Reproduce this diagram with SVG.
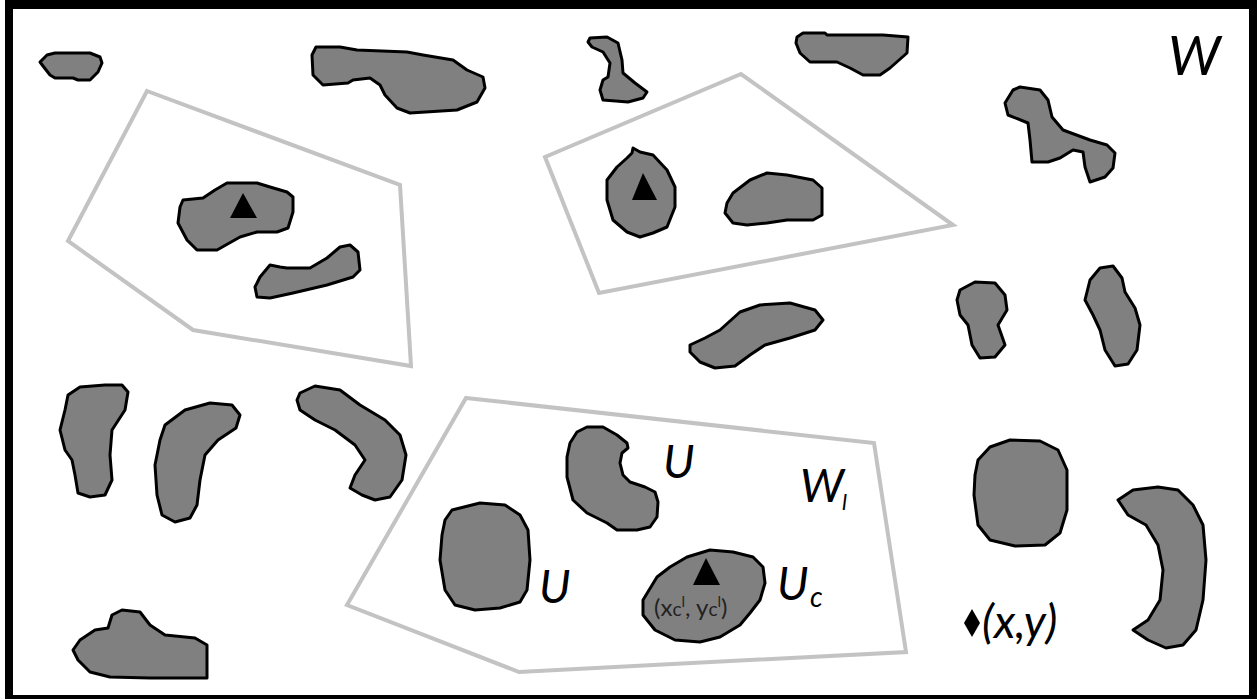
<svg xmlns="http://www.w3.org/2000/svg" width="1257" height="699" viewBox="0 0 1257 699">
<style>
.blob{fill:#808080;stroke:#000;stroke-width:3;stroke-linejoin:round}
.poly{fill:none;stroke:#c3c3c3;stroke-width:4;stroke-linejoin:miter}
.tri{fill:#000}
.lbl{font-family:Lato,"Open Sans","Liberation Sans",sans-serif;font-style:italic;fill:#000}
.sm{font-family:Lato,"Open Sans","Liberation Sans",sans-serif;fill:#222}
</style>
<rect x="5" y="0" width="1252" height="699" fill="#000"/>
<rect x="13" y="9" width="1236" height="686" fill="#fff"/>

<g id="regions">
<polygon id="region-left" class="poly" points="147,91 400,185 411,366 193,330 68,241"/>
<polygon id="region-mid" class="poly" points="545,157 741,74 953,225 599,293"/>
<polygon id="region-low" class="poly" points="466,398 874,443 906,652 519,672 347,605"/>
</g>

<g id="b1"><polygon class="blob" points="40,62 47,55 55,53 90,53 100,57 102,63 98,72 90,80 78,80 73,78 55,78 50,75 43,66"/></g>
<g id="b2"><polygon class="blob" points="316,47 340,47 357,50 407,52 423,55 453,60 467,70 483,77 485,88 477,102 457,110 410,113 397,108 385,95 380,85 370,78 353,80 348,83 323,85 313,75 312,55"/></g>
<g id="b3"><polygon class="blob" points="590,38 607,37 618,43 622,60 623,73 635,83 647,92 643,98 628,102 603,100 600,90 603,80 608,77 610,63 603,52 592,47 588,42"/></g>
<g id="b4"><polygon class="blob" points="797,37 803,33 825,33 827,35 883,35 908,37 907,53 890,68 880,75 863,75 850,68 837,62 810,62 800,53 796,43"/></g>
<g id="b5"><polygon class="blob" points="1013,90 1020,87 1040,90 1048,100 1052,117 1063,130 1090,140 1107,145 1115,153 1113,168 1105,177 1090,182 1085,167 1083,152 1073,150 1060,158 1048,162 1032,162 1030,140 1028,123 1008,115 1005,103"/></g>
<g id="b6"><polygon class="blob" points="183,200 203,198 215,190 227,183 257,183 270,187 287,192 293,197 293,212 288,228 277,232 257,232 240,237 217,250 197,250 187,240 178,223 180,207"/><polygon class="tri" points="243,193 230,218 257,218"/></g>
<g id="b7"><polygon class="blob" points="270,265 280,267 287,268 310,268 327,258 340,247 350,245 358,252 360,270 353,277 327,285 293,293 270,298 257,297 255,287 260,277"/></g>
<g id="b8"><polygon class="blob" points="632,153 633,148 640,152 653,155 667,170 675,187 675,207 667,227 653,233 640,237 627,232 613,220 607,200 607,180 617,167 627,158"/><polygon class="tri" points="643,173 632,200 657,200"/></g>
<g id="b9"><polygon class="blob" points="727,203 733,193 750,180 767,173 787,175 813,180 822,188 822,215 813,220 787,220 767,223 747,225 733,223 725,213"/></g>
<g id="b10"><polygon class="blob" points="690,345 705,338 720,330 740,312 760,305 790,303 815,310 823,320 815,330 790,338 765,345 750,355 735,366 715,368 700,362 690,352"/></g>
<g id="b11"><polygon class="blob" points="960,290 975,282 995,283 1005,295 1007,310 998,325 1005,345 995,357 980,358 972,345 968,325 960,315 957,300"/></g>
<g id="b12"><polygon class="blob" points="1090,280 1100,268 1113,266 1122,278 1125,292 1135,308 1140,325 1137,350 1128,364 1115,366 1105,350 1100,330 1093,315 1085,300"/></g>
<g id="b13"><polygon class="blob" points="68,395 80,387 105,385 122,385 128,392 125,410 112,430 110,455 112,480 105,495 90,497 78,493 75,475 72,460 65,450 60,430 65,410"/></g>
<g id="b14"><polygon class="blob" points="165,425 185,410 210,403 232,405 240,415 236,428 218,440 205,455 200,480 197,505 190,518 175,522 162,515 157,495 155,465 160,440"/></g>
<g id="b15"><polygon class="blob" points="300,393 315,386 340,390 360,405 385,420 400,435 406,455 402,480 390,497 375,500 362,495 350,488 355,475 365,460 355,445 335,430 315,420 300,410 297,400"/></g>
<g id="b16"><polygon class="blob" points="80,640 95,630 108,628 112,615 122,610 140,612 150,625 165,635 195,638 207,645 207,678 150,678 110,677 90,672 78,660 73,650"/></g>
<g id="b17"><polygon class="blob" points="570,443 577,432 587,427 603,427 617,435 627,443 628,448 622,453 620,463 623,475 630,482 645,487 655,492 658,502 657,517 650,527 637,530 617,530 607,523 587,513 573,500 567,477 567,457"/></g>
<g id="b18"><polygon class="blob" points="445,520 452,510 460,508 480,503 505,505 520,515 528,530 530,560 527,590 520,602 500,608 475,610 455,605 445,590 440,560 442,535"/></g>
<g id="b19"><polygon class="blob" points="643,600 657,577 670,567 687,557 710,550 733,552 753,557 763,567 765,583 760,600 750,613 740,625 720,637 700,642 675,640 655,630 643,615"/><polygon class="tri" points="706,558 693,585 720,585"/></g>
<g id="b20"><polygon class="blob" points="978,460 990,447 1010,440 1040,441 1058,450 1067,470 1067,510 1060,533 1045,545 1015,546 990,540 978,525 974,495 975,475"/></g>
<g id="b21"><polygon class="blob" points="1118,500 1133,490 1158,487 1178,490 1193,505 1203,525 1206,560 1203,600 1196,630 1183,645 1166,648 1148,640 1133,630 1148,620 1160,600 1163,570 1158,545 1146,525 1128,515"/></g>

<g id="labels">
<text class="lbl" x="1168" y="75" font-size="55">W</text>
<text class="lbl" x="663" y="478" font-size="46">U</text>
<text class="lbl" x="539" y="603" font-size="46">U</text>
<text class="lbl" x="800" y="502" font-size="46">W</text>
<text class="lbl" x="842" y="510" font-size="22">l</text>
<text class="lbl" x="777" y="600" font-size="46">U</text>
<text class="lbl" x="810" y="607" font-size="28">c</text>
<text class="sm" x="654" y="616" font-size="24">(x<tspan font-size="19">c</tspan><tspan font-size="15" dy="-9">l</tspan><tspan dy="9">, y</tspan><tspan font-size="19">c</tspan><tspan font-size="15" dy="-9">l</tspan><tspan dy="9">)</tspan></text>
<polygon id="point" class="tri" points="972,609 980,623 972,637 964,623"/>
<text class="lbl" x="982" y="638" font-size="46">(x,y)</text>
</g>
</svg>
